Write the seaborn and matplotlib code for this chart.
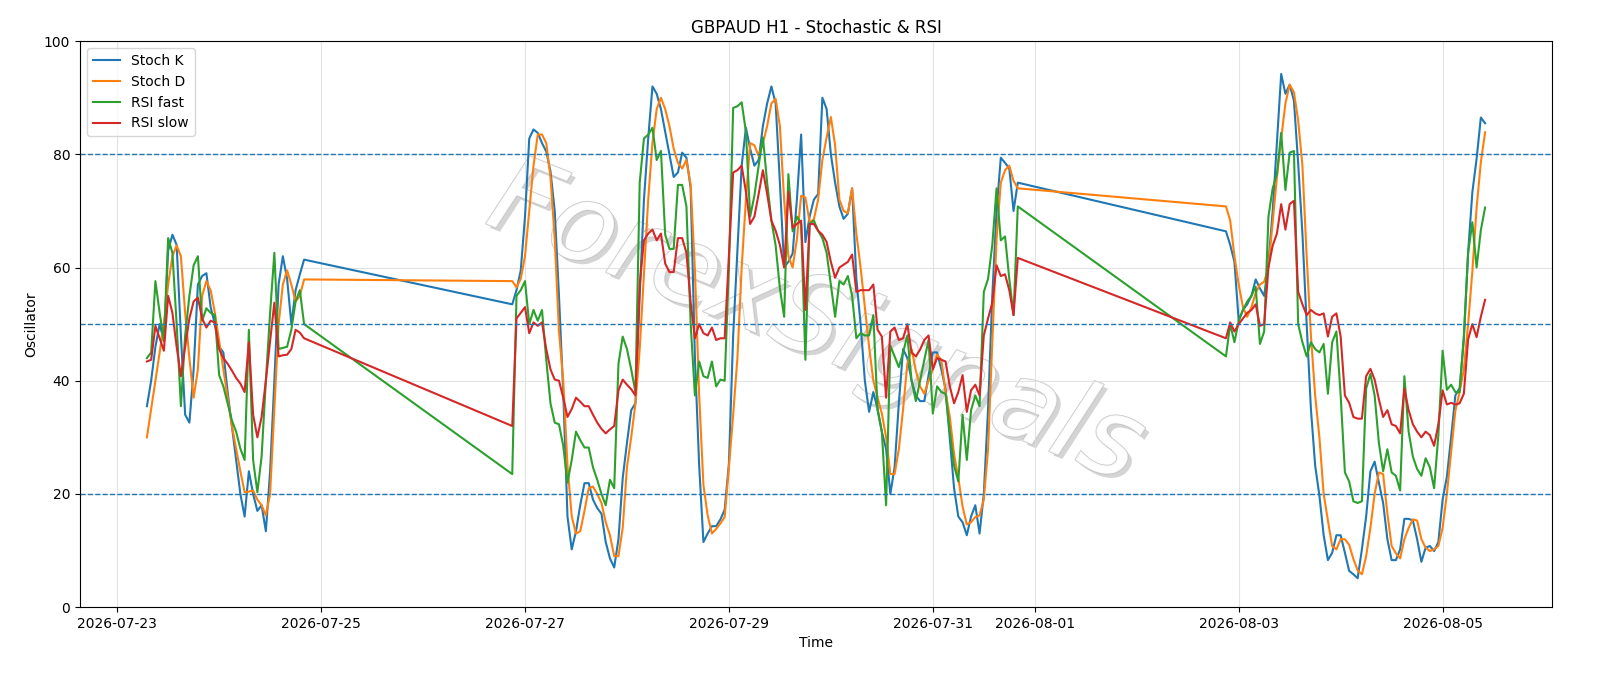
import numpy as np
import pandas as pd
import matplotlib
matplotlib.use("Agg")
import matplotlib.pyplot as plt
import matplotlib.dates as mdates
import matplotlib.patheffects as pe
import seaborn as sns

seg_starts = ["2026-07-23 07:00", "2026-07-26 21:00", "2026-08-02 21:00"]

stoch_k_1 = [35.5,40,46,50,47,63,65.8,64,48,34, 32.6,42,57,58.5,59,53,50,46,45,38,
             32,26,20,16,24,20,17,18,13.4,24, 40,57,62,58,50,56,58.8,61.4]
stoch_d_1 = [30,35,40,45,50,57,62,63.9,62,52, 44,37,42,55,57.6,56,52,47,42,37,
             32,28,24,20.3,20.4,20.6,19,18,16.2,20, 35,50,57,59.5,57,54,55,57.9]
rsi_fast_1 = [44,45,57.6,52,47,65.2,62.6,50,35.5,48, 55,60.4,62,50.6,52.8,52,51.6,41,39,36,
              33,31,28,26,49,26,20.3,26.6,40,52, 62.6,45.6,45.8,46,49,54,56,50]
rsi_slow_1 = [43.4,43.7,49.7,47.5,45.3,55,52,46,40.8,46, 51,54,54.7,51,49.4,50.6,50.3,45.6,44,43,
              41.8,40.5,39.5,38,46.8,34,30,33.6,40,47, 53.8,44.3,44.5,44.6,45.6,49,48.5,47.5]

stoch_k_2 = [53.5,56,59.5,69,82.8,84.4,83.8,82,80.5,77, 70,55,38,16,10.2,13.4,18,21.9,21.9,19,
             17.5,16.5,11.5,8.6,7,12,22.8,29,34.8,36, 55,72,82.8,92,90.7,88,84,80,76,76.8,
             80.3,79.4,
             74,44,25,11.5,13,14.3,14.3,15.5,17.2,25.4, 48,63,78,84.7,81,78,79,85,89,92,
             89,75,60.1,61,62.5,72,83.5,64.5,69,72, 73,90,88,80,75,70.8,68.6,69.5,74,
             58,50,40,34.5,38,35,31,27.9,20,24.7, 36,45.6,44,40,37.4,36.4,36.4,41,45,45,
             42,38.5,29.8,21,16,15,12.7,16,18,13, 20,35,55,70,79.4,78.5,77.5,70,75]
stoch_d_2 = [57.6,56.5,58,62,70,78,83.5,83.5,82,76, 65,48.7,40,25,16,13,13.4,17,21,21.3,
             20,18.4,15,12.7,9,9,14,24.7,30,36, 45.6,58.8,72,82,88,90,88,85,81,78.5,
             77.5,79,
             74.6,59.5,37.4,21.6,16.2,13,13.8,14.8,15.9,24.7, 34,44,60,72,82,81.6,79.7,82,85,89,
             89.8,85,72,62,60,65,72.7,72.4,68,68.5, 72,79,83,86.6,81.6,72,70,69.6,74,
             66,60,53,46,40,37,34.2,30,23.5,23.5, 27.9,35,43,45.6,41.8,39,37.7,40,42,44.6,
             43.7,38,33.6,27,22.8,17.8,14.6,15,15.9,16.2, 19,27.9,46.8,65,75,77.2,78,75.3,74]
rsi_fast_2 = [23.5,55,56,57.6,50,52.5,50.6,52.5,43.7,36, 32.6,32.3,28.5,22,26,31,29.5,28.2,28.2,24.7,
              22.5,20,18,22.5,21,43,47.8,45.6,42,38, 75,82.8,83.5,84.7,79,80.6,65.8,63.3,63.3,74.6,
              74.6,70.8,
              50,37.4,43.4,40.8,40.5,43.4,39,40.2,40,60, 88.2,88.5,89.2,84,69,72.7,78,83,75,68.3,
              63.9,56.3,51.3,76.5,66.4,69,67.7,43.7,67.7,68.3, 66.5,65.2,62.6,57,51.3,57.6,57,58.5,55,
              47.5,48.4,48,48,51.6,34.8,31,18,46.2,44.3, 42.4,45,48,40,36.4,40,43.7,47.2,34.2,39,
              38,37.7,31,25,22.2,34,26,34.8,37.4,35.5, 55.7,58,64,74,64.8,65.5,58,51.6,70.8]
rsi_slow_2 = [32,51,52,53,48.4,50.3,49.7,50.3,45.6,42, 40.2,40,37,33.6,35,37,36.3,35.5,35.5,34,
              32.6,31.5,30.7,31.4,32,38.3,40.2,39.3,38.5,37.4, 57,64.8,66,66.7,64.8,66,60.7,59.2,59.2,65.2,
              65.2,62.6,
              53.8,47.5,50,48.4,48,49.4,47.2,47.5,47.5,62, 76.8,77.2,78,73.4,67.7,69,73,77.2,73,68.3,
              66.5,64,60,73.4,67,67.7,68.3,52.5,67.7,67.7, 66.5,65.8,64.5,61,58.2,60,60.5,61,62.3,
              55.7,56,56,56,57,49,47.8,37,48.7,49.4, 47.2,47.5,50,45,44.3,45.5,47.2,48,42,44,
              43.7,43.4,39,36,38,41,34.5,38.3,39.3,37.4, 48,51,53.8,60.4,58.5,58.8,56,51.6,61.7]

stoch_k_3 = [66.4,64,61,50.6,52.5,53.5,55,57.9,56.3,55, 60.7,70,82,94.2,90.7,92.3,89.5,78.4,66,50,
             35,25,19.7,12.7,8.3,9.6,12.7,12.7,9.6,6.4, 5.8,5.1,10.2,16,24,25.7,22,18.4,12,8.3,
             8.3,10.2,15.6,15.6,15.3,12,8,10.5,10.8,9.9, 11.5,19,23,30,37.4,38.7,47.3,62.6,73.3,79.2,
             86.5,85.5]
stoch_d_3 = [70.8,68.3,62,57,53,51.3,53,55.5,57,57.5, 60,68,76,82.8,89,92.3,91,86,78,62,
             48,37.4,30,20,15.3,10.8,10.2,12,12,11, 8.5,6.5,5.8,9,14,20,23.8,23.5,16.5,10.8,
             9.5,8.6,12,14,15.5,15.3,12,10.5,9.9,10.2, 10.8,14,20,27.4,34.7,38,42,50,59.3,70.6,
             78.6,83.9]
rsi_fast_3 = [44.3,50,46.8,50.6,52.5,54,55,56.6,46.5,48.7, 69,74,76.5,83.8,73.7,80.3,80.6,50,46.8,44.3,
              46.8,45.6,45,46.5,37.7,46.8,48.7,37.4,23.8,22.2, 18.7,18.4,18.7,38.6,41.2,37.4,29,24,27.9,23.8,
              23.2,20.6,40.8,31,26.6,24.4,23.2,26.3,24.7,21, 30.4,45.3,38.4,39.3,38,38,48,62.6,68,60,
              66.6,70.6]
rsi_slow_3 = [47.5,50.3,48.7,50,51,52,52.5,53.5,49.7,50, 60,63.9,66,71.2,66.7,71.2,71.8,55.7,53.5,51.6,
              52.5,51.9,51.6,51.9,47.8,51.3,51.9,47.8,37.4,36.1, 33.6,33.3,33.3,40.8,42.1,40.2,36.7,33.6,34.8,32.3,
              32,30.7,38.6,34.8,32.3,31,30,31,30.4,28.5, 32.3,38.3,35.8,36.1,35.8,36,37.7,47.3,50,47.7,
              51.3,54.3]

series_names = ["Stoch K", "Stoch D", "RSI fast", "RSI slow"]
colors = ["#1f77b4", "#ff7f0e", "#2ca02c", "#d62728"]

segs = [
    (stoch_k_1, stoch_d_1, rsi_fast_1, rsi_slow_1),
    (stoch_k_2, stoch_d_2, rsi_fast_2, rsi_slow_2),
    (stoch_k_3, stoch_d_3, rsi_fast_3, rsi_slow_3),
]
times = []
vals = {n: [] for n in series_names}
for start, seg in zip(seg_starts, segs):
    n = len(seg[0])
    times.extend(pd.date_range(start, periods=n, freq="h"))
    for name, arr in zip(series_names, seg):
        vals[name].extend(arr)

frames = []
for name in series_names:
    frames.append(pd.DataFrame({"Time": times, "value": vals[name], "series": name}))
df = pd.concat(frames, ignore_index=True)

fig, ax = plt.subplots(figsize=(16, 6.86), dpi=100)
sns.lineplot(data=df, x="Time", y="value", hue="series", hue_order=series_names,
             palette=colors, linewidth=1.5, ax=ax, estimator=None, sort=True)

for lvl in [80, 50, 20]:
    ax.axhline(lvl, color="#1f77b4", linestyle="--", linewidth=1)

ax.set_ylim(0, 100)
ax.set_title("GBPAUD H1 - Stochastic & RSI", fontsize=12)
ax.set_xlabel("Time")
ax.set_ylabel("Oscillator")
ax.grid(True, color="#dddddd", linewidth=0.8, alpha=0.8)
ax.xaxis.set_major_locator(mdates.DayLocator(bymonthday=range(1, 32, 2)))
ax.xaxis.set_major_formatter(mdates.DateFormatter("%Y-%m-%d"))
ax.legend(loc="upper left", title=None)

ax.text(0.5, 0.5, "ForexSignals", transform=ax.transAxes, fontsize=78,
        color="white", alpha=0.85, rotation=-22, ha="center", va="center",
        fontweight="light", fontstyle="italic",
        path_effects=[pe.withSimplePatchShadow(offset=(3, -3), shadow_rgbFace="#aaaaaa", alpha=0.5),
                      pe.Stroke(linewidth=1.2, foreground="#c0c0c0"), pe.Normal()],
        zorder=0)

fig.subplots_adjust(left=0.05, right=0.97, top=0.94, bottom=0.115)
fig.savefig("out.png", dpi=100)
